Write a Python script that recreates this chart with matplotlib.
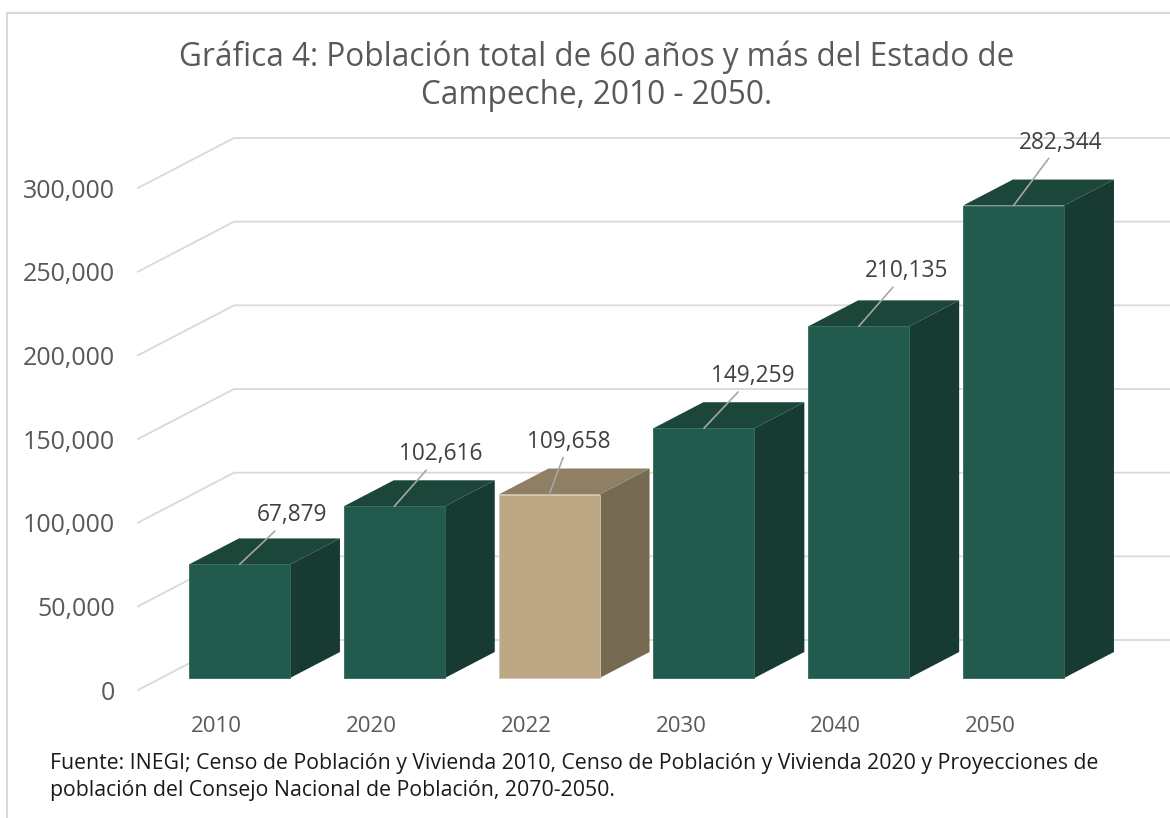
import matplotlib
matplotlib.use("Agg")
import matplotlib.pyplot as plt
from matplotlib.patches import Polygon, Rectangle
from matplotlib.lines import Line2D

# ---- data ----
categories = ["2010", "2020", "2022", "2030", "2040", "2050"]
values = [67879, 102616, 109658, 149259, 210135, 282344]
highlight = [False, False, True, False, False, False]
yticks = [0, 50000, 100000, 150000, 200000, 250000, 300000]
ytick_labels = ["0", "50,000", "100,000", "150,000", "200,000", "250,000", "300,000"]
title = "Gráfica 4: Población total de 60 años y más del Estado de\nCampeche, 2010 - 2050."
source = ("Fuente: INEGI; Censo de Población y Vivienda 2010, Censo de Población y Vivienda 2020 y Proyecciones de\n"
          "población del Consejo Nacional de Población, 2070-2050.")

# ---- style ----
W, H, DPI = 1170, 818, 100
FONT = ["Open Sans", "DejaVu Sans"]
green = dict(front="#225B4D", top="#1B4639", side="#173A32", edge="#2E6B5B")
tan = dict(front="#BDA886", top="#8F7F63", side="#776A53", edge="#D6C7AA")
grid_c = "#D9D9D9"
text_c = "#595959"
# label offsets (pixels) from the top-front-centre of each bar
label_off = [(52, 49), (46, 52), (20, 53), (49, 52), (48, 55), (47, 63)]

fig = plt.figure(figsize=(W / DPI, H / DPI), dpi=DPI)
plt.rcParams["font.family"] = FONT

# axes: front plane mapping
px_per_val = 502 / 300000.0
px_per_cat = 154.8
ax_left_px, ax_right_px = 138, 1170
ax_bottom_px = 690  # from top
ymax = 340000
ax_h_px = ymax * px_per_val
ax = fig.add_axes([ax_left_px / W, (H - ax_bottom_px) / H,
                   (ax_right_px - ax_left_px) / W, ax_h_px / H])
x0 = -(216.5 - ax_left_px) / px_per_cat
x1 = x0 + (ax_right_px - ax_left_px) / px_per_cat
ax.set_xlim(x0, x1)
ax.set_ylim(0, ymax)
for s in ax.spines.values():
    s.set_visible(False)

# depth (oblique) offsets in data units for full floor depth
DX = 96 / px_per_cat
DY = 50 / px_per_val
d_front, d_back = 0.24, 0.76
bw = 101 / px_per_cat

# back-wall gridlines
for v in yticks:
    ax.add_line(Line2D([x0, x0 + DX, x1], [v, v + DY, v + DY], color=grid_c,
                       lw=1.3, clip_on=False, zorder=1))

ax.set_yticks(yticks)
ax.set_yticklabels(ytick_labels)
ax.tick_params(axis="y", length=0, pad=16.5, labelsize=18, labelcolor=text_c)
ax.set_xticks(range(len(categories)))
ax.set_xticklabels(categories)
ax.tick_params(axis="x", length=0, pad=18.5, labelsize=16, labelcolor=text_c)

for i, (v, hl) in enumerate(zip(values, highlight)):
    c = tan if hl else green
    fx = i - bw / 2 + d_front * DX
    fy = d_front * DY
    ddx = (d_back - d_front) * DX
    ddy = (d_back - d_front) * DY
    # side face
    ax.add_patch(Polygon([(fx + bw, fy), (fx + bw + ddx, fy + ddy),
                          (fx + bw + ddx, fy + ddy + v), (fx + bw, fy + v)],
                         closed=True, facecolor=c["side"], edgecolor="none",
                         clip_on=False, zorder=3))
    # top face
    ax.add_patch(Polygon([(fx, fy + v), (fx + ddx, fy + ddy + v),
                          (fx + bw + ddx, fy + ddy + v), (fx + bw, fy + v)],
                         closed=True, facecolor=c["top"], edgecolor="none",
                         clip_on=False, zorder=3))
    # front face
    ax.add_patch(Rectangle((fx, fy), bw, v, facecolor=c["front"],
                           edgecolor=c["edge"], lw=0.6, clip_on=False, zorder=4))
    ox, oy = label_off[i]
    ax.annotate(f"{v:,}", xy=(fx + bw / 2, fy + v),
                xytext=(ox * 72 / DPI, oy * 72 / DPI), textcoords="offset points",
                ha="center", va="center", fontsize=16.3, color="#404040",
                arrowprops=dict(arrowstyle="-", color="#A6A6A6", lw=1.2,
                                shrinkA=1, shrinkB=0),
                annotation_clip=False, zorder=6)

# title and source
fig.text(596.5 / W, 1 - 76 / H, title, ha="center", va="center", fontsize=22.7,
         color=text_c, linespacing=1.22)
fig.text(50 / W, 1 - 777 / H, source, ha="left", va="center", fontsize=15.3,
         color="#1A1A1A", linespacing=1.42)

# frame lines
fig.add_artist(Line2D([6.5 / W, 1], [1 - 12.5 / H, 1 - 12.5 / H],
                      transform=fig.transFigure, color=grid_c, lw=1.5))
fig.add_artist(Line2D([6.5 / W, 6.5 / W], [0, 1 - 12.5 / H],
                      transform=fig.transFigure, color=grid_c, lw=1.5))

fig.savefig("out.png", dpi=DPI)
